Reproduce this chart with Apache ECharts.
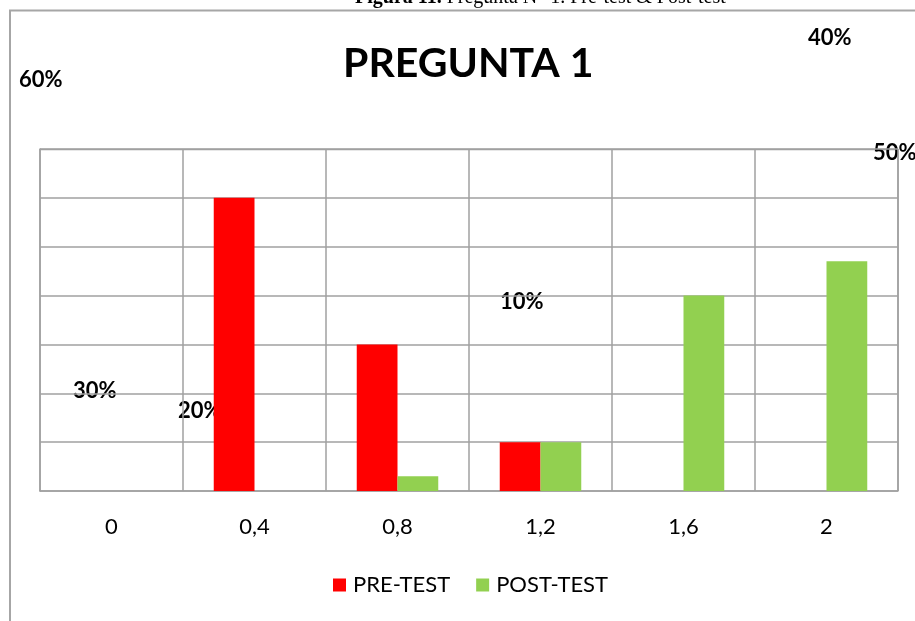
<!DOCTYPE html>
<html>
<head>
<meta charset="utf-8">
<script src="https://cdn.jsdelivr.net/npm/echarts@6/dist/echarts.min.js"></script>
<style>
  html, body { margin: 0; padding: 0; background: #fff; }
  #chart { width: 915px; height: 621px; }
</style>
</head>
<body>
<div id="chart"></div>
<script>
// Categories along the horizontal axis
const categories = ['0', '0,4', '0,8', '1,2', '1,6', '2'];
// Series values in percent
const preTest  = [0, 60, 30, 10, 0, 0];
const postTest = [0, 0, 3, 10, 40, 47];
const seriesNames = ['PRE-TEST', 'POST-TEST'];
// Percentage tags floating on the chart area
const floatingTags = ['60%', '40%', '50%', '10%', '30%', '20%'];
const chartTitle = 'PREGUNTA 1';
const captionBold = 'Figura 11.';
const captionRest = ' Pregunta N° 1. Pre-test & Post-test';

const chart = echarts.init(document.getElementById('chart'), null, { renderer: 'canvas' });

const labelFont = 'Lato, "Open Sans", sans-serif';
// left edge / vertical centre of each floating tag
const tagPos = [[19, 80], [808, 38], [873, 153], [500, 302], [73, 391], [178, 411]];
const tagElement = (text, i) => ({
  type: 'text', x: tagPos[i][0], y: tagPos[i][1],
  style: { text: text, font: 'bold 22px Lato, "Open Sans", sans-serif', fill: '#000',
           verticalAlign: 'middle' }
});

chart.setOption({
  animation: false,
  backgroundColor: '#fff',
  title: {
    text: chartTitle,
    left: 338,
    top: 38,
    textStyle: { fontFamily: labelFont, fontWeight: 'bold', fontSize: 41, color: '#000' }
  },
  legend: {
    data: seriesNames,
    bottom: 20,
    left: 328,
    itemWidth: 13,
    itemHeight: 13,
    itemGap: 26,
    icon: 'rect',
    textStyle: { fontFamily: labelFont, fontSize: 22, color: '#000', padding: [0, 0, 0, 2] }
  },
  grid: { left: 40, right: 17, top: 149, bottom: 130, containLabel: false },
  xAxis: {
    type: 'category',
    data: categories,
    axisLine: { show: true, lineStyle: { color: '#a0a0a0', width: 1.5 } },
    axisTick: { show: false },
    axisLabel: { fontFamily: labelFont, fontSize: 22, color: '#000', margin: 25 },
    splitLine: { show: true, lineStyle: { color: '#a0a0a0', width: 1.5 } }
  },
  yAxis: {
    type: 'value',
    min: 0, max: 70, interval: 10,
    axisLabel: { show: false },
    axisLine: { show: true, lineStyle: { color: '#a0a0a0', width: 1.5 } },
    axisTick: { show: false },
    splitLine: { show: true, lineStyle: { color: '#a0a0a0', width: 1.5 } }
  },
  series: [
    {
      name: seriesNames[0], type: 'bar', data: preTest,
      itemStyle: { color: '#ff0000' },
      barGap: '0%', barCategoryGap: '43%'
    },
    {
      name: seriesNames[1], type: 'bar', data: postTest,
      itemStyle: { color: '#92d050' },
      barGap: '0%', barCategoryGap: '43%'
    }
  ],
  graphic: [
    // outer chart frame
    { type: 'polyline', shape: { points: [[10, 621], [10, 10.5], [915, 10.5]] },
      style: { stroke: '#a6a6a6', lineWidth: 2, fill: null } },
    // right edge and top of plot area
    { type: 'polyline', shape: { points: [[40, 149.5], [898, 149.5], [898, 491]] },
      style: { stroke: '#a0a0a0', lineWidth: 1.5, fill: null } },
    // figure caption above the frame
    { type: 'text', x: 355, y: 8,
      style: { rich: { b: { font: 'bold 20px "Liberation Serif", serif', fill: '#000' },
                       r: { font: '20px "Liberation Serif", serif', fill: '#000' } },
               text: '{b|' + captionBold + '}{r|' + captionRest + '}',
               verticalAlign: 'bottom' } }
  ].concat(floatingTags.map(tagElement))
});
</script>
</body>
</html>
